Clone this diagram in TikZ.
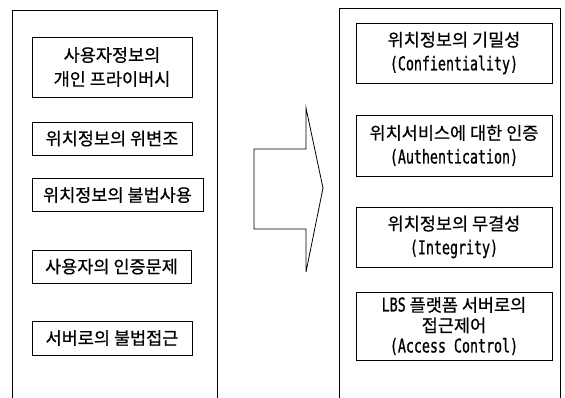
\documentclass[tikz,border=0pt]{standalone}
\usepackage{fontspec}
\setmainfont[FakeBold=0.6]{Noto Sans CJK KR}
\newfontfamily\latnfont[FakeStretch=0.7,FakeBold=0.8]{DejaVu Sans Mono}
\newcommand\mylat[1]{{\latnfont\fontsize{19pt}{24pt}\selectfont #1}}
\begin{document}
\begin{tikzpicture}[x=1pt,y=-1pt,
  outer/.style={draw, line width=0.8pt},
  box/.style={draw, line width=0.8pt, inner sep=0pt, align=center,
    font=\fontsize{17.5pt}{24pt}\selectfont},
  lbox/.style={box, minimum width=#1},
  rbox/.style={box, minimum width=196, minimum height=#1}]
\useasboundingbox (0,0) rectangle (565,397);
% outer frames (open at the bottom)
\draw[outer] (12,398) -- (12,10) -- (217,10) -- (217,398);
\draw[outer] (339,398) -- (339,8) -- (560,8) -- (560,398);
% left boxes
\node[lbox=160, minimum height=60] (l1) at (112,67) {사용자정보의\\개인 프라이버시};
\node[lbox=160, minimum height=33] (l2) at (112,138.5) {위치정보의 위변조};
\node[lbox=171, minimum height=33] (l3) at (117.5,195) {위치정보의 불법사용};
\node[lbox=159, minimum height=33] (l4) at (111.5,266.5) {사용자의 인증문제};
\node[lbox=160, minimum height=34] (l5) at (112,338) {서버로의 불법접근};
% right boxes
\node[rbox=60] (r1) at (454,53) {위치정보의 기밀성\\\mylat{(Confientiality)}};
\node[rbox=61] (r2) at (454,145.5) {위치서비스에 대한 인증\\\mylat{(Authentication)}};
\node[rbox=60] (r3) at (454,237) {위치정보의 무결성\\\mylat{(Integrity)}};
\node[rbox=68, font=\fontsize{17.5pt}{20.5pt}\selectfont] (r4) at (454,326)
  {\mylat{LBS} 플랫폼 서버로의\\접근제어\\\mylat{(Access Control)}};
% block arrow
\draw[line width=0.8pt, line join=miter]
  (254,149) -- (306,149) -- (306,108) -- (323,188) -- (306,272)
  -- (306,229) -- (254,229) -- cycle;
\end{tikzpicture}
\end{document}
